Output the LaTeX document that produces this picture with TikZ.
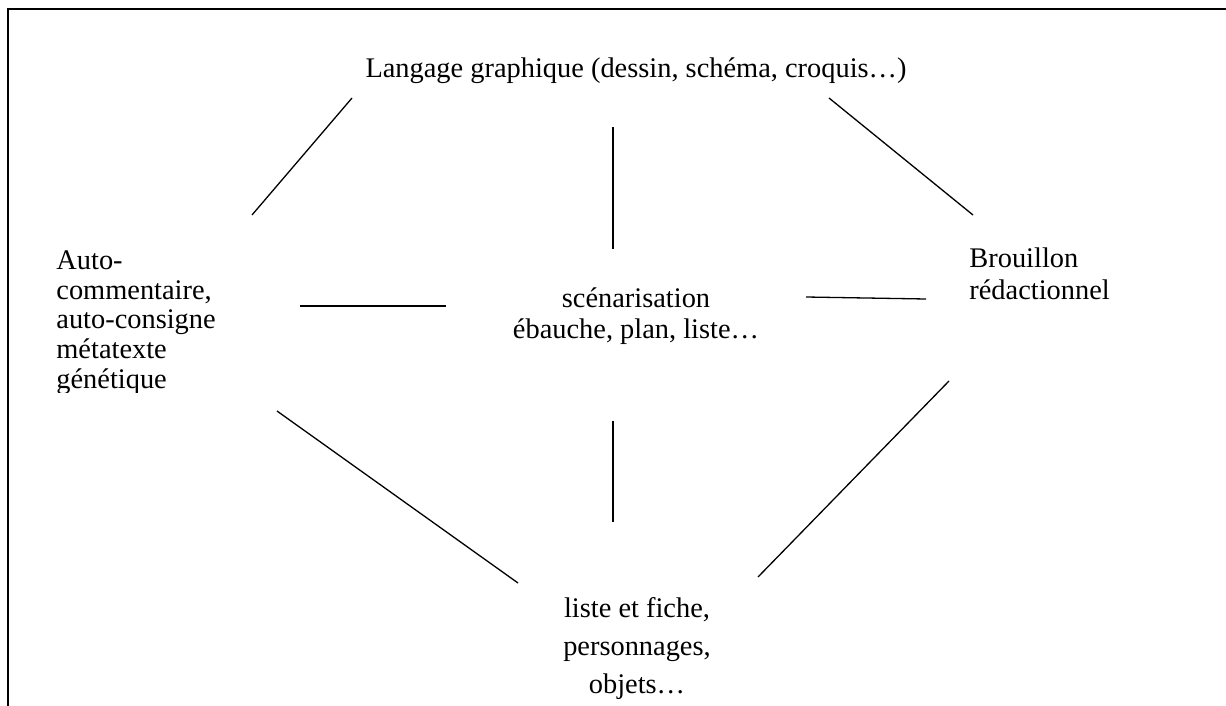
\documentclass[tikz,border=0pt]{standalone}
\usepackage{fontspec}
\setmainfont{Liberation Serif}
\usepackage{tikz}
\tikzstyle{word} = [inner sep=0pt, 
font=\fontsize{14.2}{16}\selectfont]
\tikzstyle{link} = [line width=0.65pt]
\tikzstyle{frame} = [line width=1pt]

\begin{document}
\begin{tikzpicture}[x=0.5pt, y=-0.5pt]
\useasboundingbox (0,0) rectangle (1226,706);
\draw [frame] (8,706) -- (8,9) -- (1226,9);

\node (graph) [word, anchor=base] at (636,78) {Langage graphique (dessin, schéma, croquis…)};
\begin{scope}
\clip (20,200) rectangle (300,392);
\node (auto) [word, anchor=base west, align=left, font=\fontsize{14.2}{14.8}\selectfont] at (56,388) {Auto-\\commentaire,\\auto-consigne\\métatexte\\génétique};
\end{scope}
\node (scen) [word, anchor=base, align=center, font=\fontsize{14.2}{15.5}\selectfont] at (636,338) {scénarisation\\ébauche, plan, liste…};
\node (brou) [word, anchor=base west, align=left] at (969,299) {Brouillon\\rédactionnel};
\node (liste) [word, anchor=base, align=center, font=\fontsize{14.2}{19}\selectfont] at (637,693) {liste et fiche,\\personnages,\\objets…};

\coordinate (c1a) at (352,98);
\coordinate (c1b) at (252,215);
\coordinate (c2a) at (613,127);
\coordinate (c2b) at (613,249);
\coordinate (c3a) at (829,98);
\coordinate (c3b) at (973,215);
\coordinate (c4a) at (300,306);
\coordinate (c4b) at (446,306);
\coordinate (c5a) at (806,297);
\coordinate (c5b) at (926,299);
\coordinate (c6a) at (277,411);
\coordinate (c6b) at (518,583);
\coordinate (c7a) at (613,421);
\coordinate (c7b) at (613,522);
\coordinate (c8a) at (949,381);
\coordinate (c8b) at (758,577);

\draw [link] (c1a) -- (c1b);
\draw [link] (c2a) -- (c2b);
\draw [link] (c3a) -- (c3b);
\draw [link] (c4a) -- (c4b);
\draw [link] (c5a) -- (c5b);
\draw [link] (c6a) -- (c6b);
\draw [link] (c7a) -- (c7b);
\draw [link] (c8a) -- (c8b);

\end{tikzpicture}
\end{document}
